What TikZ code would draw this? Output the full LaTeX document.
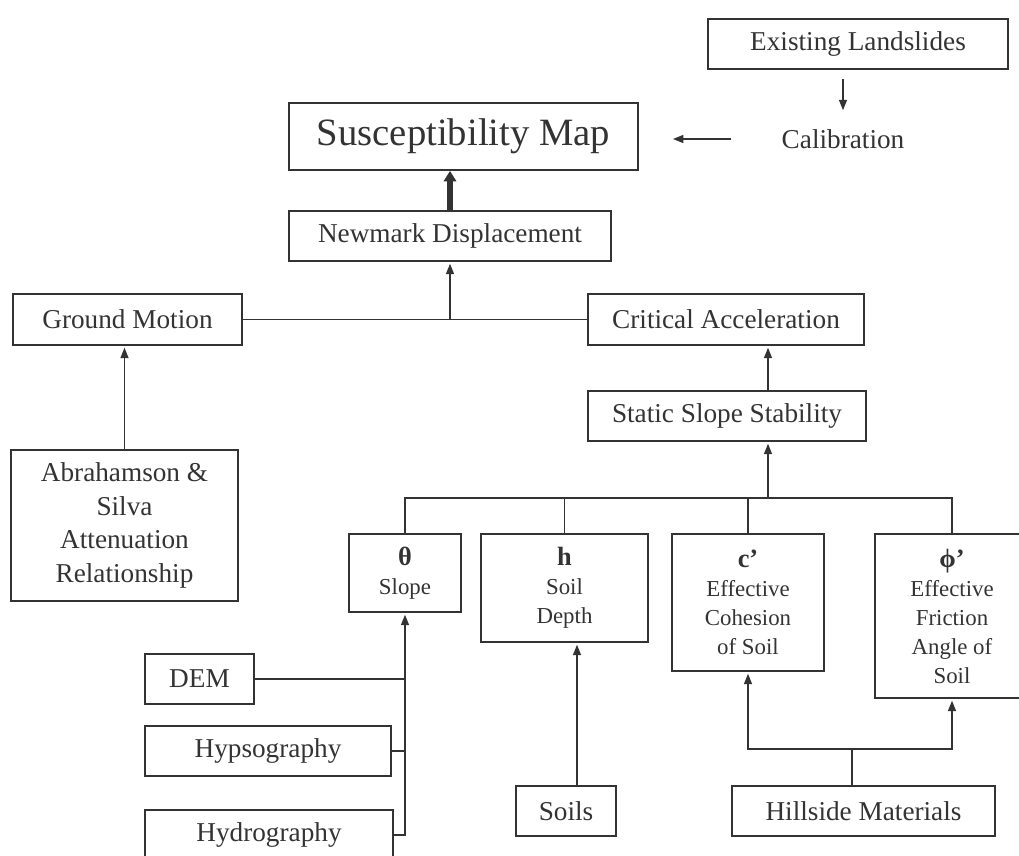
\documentclass[tikz,border=0pt]{standalone}
\usepackage{fontspec}
\setmainfont{Liberation Serif}
\usetikzlibrary{arrows.meta}

\newcommand{\sym}[1]{{\fontsize{15}{16.5}\selectfont\bfseries #1}}

\tikzset{
  box/.style={draw, line width=1pt, align=center, inner sep=0pt,
    font=\fontsize{15.5}{19}\selectfont},
  smallbox/.style={box, font=\fontsize{13}{16.5}\selectfont},
  arr/.style={-{Triangle[width=4.5pt,length=6pt]}, line width=1pt, shorten >=1pt},
}

\begin{document}
\begin{tikzpicture}[color=black!80]
    \useasboundingbox (0,0) rectangle (20.38,-17.12);
    \clip (0,0) rectangle (20.38,-17.12);

    \node[box, minimum width=6cm, minimum height=1cm] (land) at (17.16,-0.88) {Existing Landslides};
    \node[font=\fontsize{15.5}{19}\selectfont, inner xsep=1cm, inner ysep=0.34cm] (calib) at (16.86,-2.78) {Calibration};
    \node[box, font=\fontsize{22}{26}\selectfont, minimum width=6.98cm, minimum height=1.34cm] (susc) at (9.27,-2.73) {Susceptibility Map};
    \node[box, minimum width=6.44cm, minimum height=1cm] (newm) at (9.0,-4.72) {Newmark Displacement};
    \node[box, minimum width=4.58cm, minimum height=1.02cm] (ground) at (2.55,-6.39) {Ground Motion};
    \node[box, minimum width=5.52cm, minimum height=1.02cm] (crit) at (14.52,-6.39) {Critical Acceleration};
    \node[box, minimum width=5.56cm, minimum height=1cm] (stat) at (14.54,-8.32) {Static Slope Stability};
    \node[box, minimum width=4.54cm, minimum height=3.02cm] (abra) at (2.49,-10.51) {Abrahamson \&\\Silva\\Attenuation\\Relationship};

    \node[smallbox, minimum width=2.24cm, minimum height=1.56cm] (slope) at (8.1,-11.46) {\sym{θ}\\Slope};
    \node[smallbox, minimum width=3.34cm, minimum height=2.16cm] (depth) at (11.29,-11.76) {\sym{h}\\Soil\\Depth};
    \node[smallbox, minimum width=3.04cm, minimum height=2.74cm] (coh) at (14.96,-12.05) {\sym{c’}\\Effective\\Cohesion\\of Soil};
    \node[smallbox, minimum width=3.08cm, minimum height=3.28cm] (fric) at (19.04,-12.32) {\sym{ϕ’}\\Effective\\Friction\\Angle of\\Soil};

    \node[box, minimum width=2.18cm, minimum height=1cm] (dem) at (3.99,-13.58) {DEM};
    \node[box, minimum width=4.92cm, minimum height=1cm] (hyps) at (5.36,-15.02) {Hypsography};
    \node[box, minimum width=4.96cm, minimum height=1cm] (hydro) at (5.38,-16.7) {Hydrography};
    \node[box, minimum width=2cm, minimum height=1cm] (soils) at (11.32,-16.22) {Soils};
    \node[box, minimum width=5.26cm, minimum height=1cm] (hill) at (17.27,-16.22) {Hillside Materials};

    \draw[arr, shorten <=0.18cm] (land.south -| calib.north) -- (calib.north);
    \draw[arr, shorten >=0.68cm] (calib.west) -- (calib.west -| susc.east);
    \draw[-{Triangle[width=7pt,length=6pt]}, line width=3pt] (newm.north) -- (newm.north |- susc.south);

    \draw[line width=1pt] (ground) -- (crit);
    \draw[arr] (newm.south |- ground.east) -- (newm.south);
    \draw[arr] (abra.north) -- (abra.north |- ground.south);

    \coordinate (s1) at ([xshift=0.82cm]stat.north);
    \coordinate (s2) at ([xshift=0.82cm]stat.south);
    \coordinate (bus) at (0,-9.96);
    \draw[arr] (s1) -- (s1 |- crit.south);
    \draw[line width=1pt] (slope.north) |- (bus -| fric.north) -- (fric.north);
    \draw[line width=1pt] (depth.north) -- (depth.north |- bus);
    \draw[line width=1pt] (coh.north) -- (coh.north |- bus);
    \draw[arr] (s2 |- bus) -- (s2);

    \draw[arr] (hydro.east) -| (slope.south);
    \draw[line width=1pt] (dem.east) -- (dem.east -| slope.south);
    \draw[line width=1pt] (hyps.east) -- (hyps.east -| slope.south);

    \coordinate (s3) at ([xshift=0.22cm]soils.north);
    \draw[arr] (s3) -- (s3 |- depth.south);

    \coordinate (h1) at ([xshift=-0.23cm]hill.north);
    \coordinate (hb) at ([yshift=0.72cm]h1);
    \draw[line width=1pt] (h1) -- (hb);
    \draw[arr] (hb) -| (coh.south);
    \draw[arr] (hb) -| (fric.south);
\end{tikzpicture}
\end{document}
